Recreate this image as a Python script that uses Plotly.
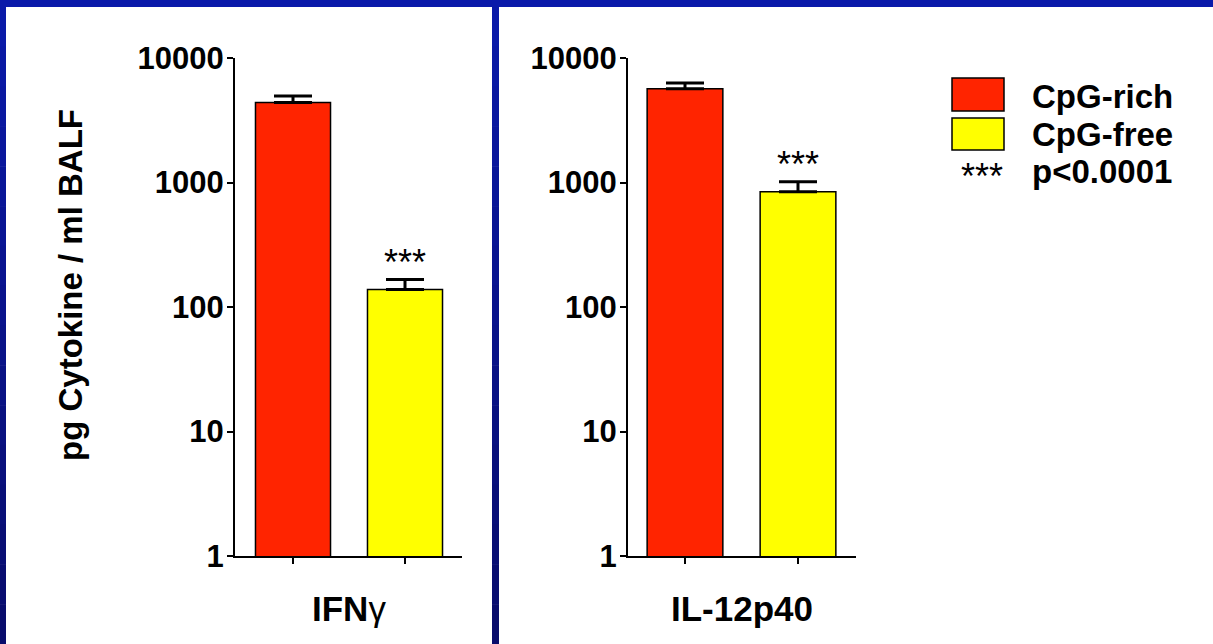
import math
import plotly.graph_objects as go

W, H = 1213, 644

categories = ["IFNγ", "IL-12p40"]
series_names = ["CpG-rich", "CpG-free"]
cpg_rich = [4400, 5650]
cpg_rich_err = [555, 650]
cpg_free = [138, 843]
cpg_free_err = [28, 171]
y_tickvals = [1, 10, 100, 1000, 10000]
y_ticktext = ["1", "10", "100", "1000", "10000"]
y_title = "pg Cytokine / ml BALF"
sig_label = "***"
sig_text = "p<0.0001"

RED = "#FF2400"
YELLOW = "#FFFF00"
BLUE_TOP = (10, 26, 170)
BLUE_BOTTOM = (8, 12, 106)
FONT = "Liberation Sans, Arial, sans-serif"


def px_x(p):
    return p / W


def px_y(p):
    return 1 - p / H


def blue_at(t):
    c = [round(a + (b - a) * t) for a, b in zip(BLUE_TOP, BLUE_BOTTOM)]
    return "rgb(%d,%d,%d)" % tuple(c)


fig = go.Figure()

# panel geometry (pixel based)
panels = [
    dict(ax_left=235, ax_right=462, c0=293, c1=405),
    dict(ax_left=628, ax_right=856, c0=685, c1=798),
]
ydom = [px_y(556), px_y(58)]

for i, cat in enumerate(categories):
    xa = "x" if i == 0 else "x2"
    ya = "y" if i == 0 else "y2"
    p = panels[i]
    fig.add_trace(go.Bar(
        x=[0], y=[cpg_rich[i]], width=0.67, xaxis=xa, yaxis=ya,
        marker=dict(color=RED, line=dict(color="black", width=1.5)),
        error_y=dict(type="data", array=[cpg_rich_err[i]], arrayminus=[0], symmetric=False,
                     color="black", thickness=3, width=19),
        showlegend=False, name=series_names[0]))
    fig.add_trace(go.Bar(
        x=[1], y=[cpg_free[i]], width=0.67, xaxis=xa, yaxis=ya,
        marker=dict(color=YELLOW, line=dict(color="black", width=1.5)),
        error_y=dict(type="data", array=[cpg_free_err[i]], arrayminus=[0], symmetric=False,
                     color="black", thickness=3, width=19),
        showlegend=False, name=series_names[1]))
    spacing = p["c1"] - p["c0"]
    rng = [-(p["c0"] - p["ax_left"]) / spacing, 1 + (p["ax_right"] - p["c1"]) / spacing]
    xkey = "xaxis" if i == 0 else "xaxis2"
    ykey = "yaxis" if i == 0 else "yaxis2"
    fig.update_layout(**{
        xkey: dict(domain=[px_x(p["ax_left"]), px_x(p["ax_right"])], range=rng,
                   showline=True, linecolor="black", linewidth=2,
                   ticks="outside", ticklen=6, tickwidth=2, tickcolor="black",
                   tickvals=[0, 1], showticklabels=False, showgrid=False,
                   zeroline=False, anchor=ya, fixedrange=True, automargin=False),
        ykey: dict(domain=ydom, type="log", range=[0, 4],
                   showline=True, linecolor="black", linewidth=2,
                   ticks="outside", ticklen=6, tickwidth=2, tickcolor="black",
                   tickvals=y_tickvals, ticktext=y_ticktext,
                   tickfont=dict(family=FONT, size=31, color="black", weight="bold"),
                   ticklabelstandoff=-3, automargin=False,
                   showgrid=False, zeroline=False, anchor=xa, fixedrange=True),
    })
    # significance stars
    fig.add_annotation(x=1, y=math.log10(cpg_free[i] + cpg_free_err[i]),
                       xref=xa, yref=ya, text=sig_label, showarrow=False,
                       yanchor="middle", yshift=17,
                       font=dict(family=FONT, size=36, color="black"))
    # category label
    cx = (p["c0"] + p["c1"]) / 2
    label = "<b>IFN</b>γ" if cat == "IFNγ" else "<b>" + cat + "</b>"
    fig.add_annotation(x=px_x(cx), y=px_y(608), xref="paper", yref="paper",
                       text=label, showarrow=False, xanchor="center", yanchor="middle",
                       font=dict(family=FONT, size=35, color="black"))

# y-axis title
fig.add_annotation(x=px_x(70), y=px_y(285), xref="paper", yref="paper",
                   text=y_title, textangle=-90, showarrow=False,
                   xanchor="center", yanchor="middle",
                   font=dict(family=FONT, size=33, color="black", weight="bold"))

# legend
shapes = []
for (y0, y1, col) in [(78, 111, RED), (118, 150, YELLOW)]:
    shapes.append(dict(type="rect", xref="paper", yref="paper",
                       x0=px_x(952), x1=px_x(1004), y0=px_y(y1), y1=px_y(y0),
                       fillcolor=col, line=dict(color="black", width=1.5)))
for txt, yc in [(series_names[0], 96), (series_names[1], 134), (sig_text, 172)]:
    fig.add_annotation(x=px_x(1030), y=px_y(yc), xref="paper", yref="paper",
                       text=txt, showarrow=False, xanchor="left", yanchor="middle",
                       font=dict(family=FONT, size=33, color="black", weight="bold"))
fig.add_annotation(x=px_x(982), y=px_y(176), xref="paper", yref="paper",
                   text=sig_label, showarrow=False, xanchor="center", yanchor="middle",
                   font=dict(family=FONT, size=36, color="black"))

# blue frame (top stripe + vertical stripes with a slight top-to-bottom darkening)
shapes.append(dict(type="rect", xref="paper", yref="paper",
                   x0=0, x1=1, y0=px_y(7), y1=1,
                   fillcolor=blue_at(0), line=dict(width=0), layer="above"))
nseg = 16
for k in range(nseg):
    y0 = 7 + (H - 7) * k / nseg
    y1 = 7 + (H - 7) * (k + 1) / nseg
    col = blue_at((k + 0.5) / nseg)
    for (x0, x1) in [(0, 6), (492, 499)]:
        shapes.append(dict(type="rect", xref="paper", yref="paper",
                           x0=px_x(x0), x1=px_x(x1), y0=px_y(y1 + 0.5), y1=px_y(y0),
                           fillcolor=col, line=dict(width=0), layer="above"))

fig.update_layout(
    width=W, height=H, margin=dict(l=0, r=0, t=0, b=0, pad=0, autoexpand=False),
    paper_bgcolor="white", plot_bgcolor="white",
    shapes=shapes, barmode="overlay", showlegend=False,
)

fig.write_html("out.html", config={"displayModeBar": False})
